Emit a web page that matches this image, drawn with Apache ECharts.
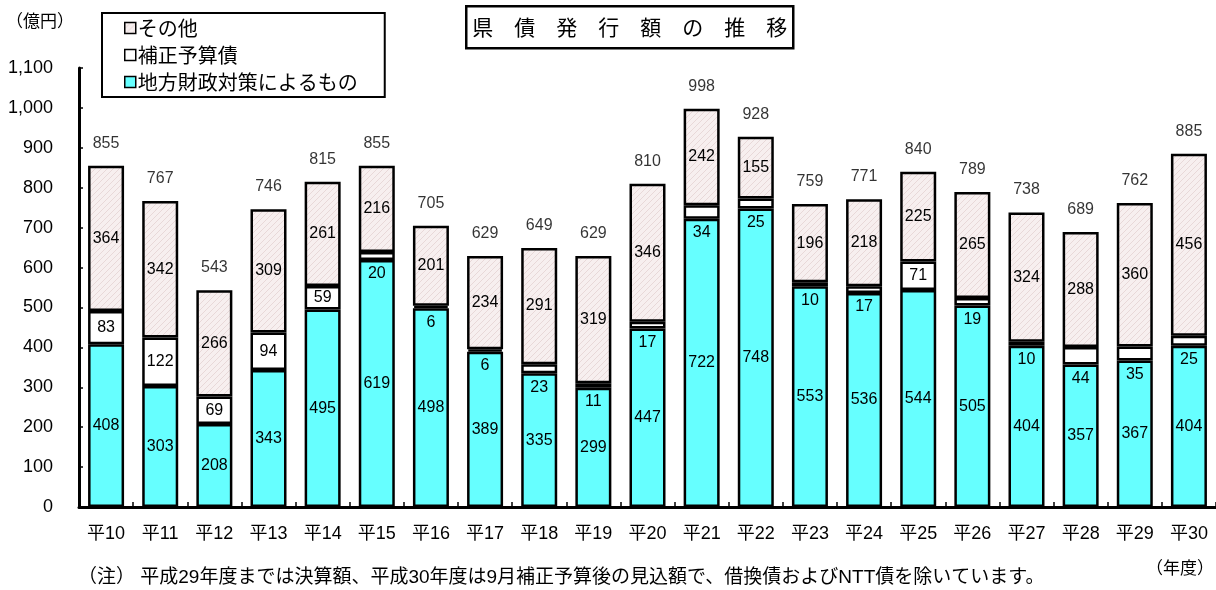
<!DOCTYPE html>
<html>
<head>
<meta charset="utf-8">
<script src="https://cdn.jsdelivr.net/npm/echarts@6/dist/echarts.min.js"></script>
<style>
  html, body { margin: 0; padding: 0; background: #fff; }
  #chart { width: 1216px; height: 590px; }
</style>
</head>
<body>
<div id="chart"></div>
<script>
// 年度
const years = ['平10', '平11', '平12', '平13', '平14', '平15', '平16', '平17', '平18', '平19', '平20',
               '平21', '平22', '平23', '平24', '平25', '平26', '平27', '平28', '平29', '平30'];
// 地方財政対策によるもの（億円）
const localMeasures = [408, 303, 208, 343, 495, 619, 498, 389, 335, 299, 447,
                       722, 748, 553, 536, 544, 505, 404, 357, 367, 404];
// 補正予算債（億円）
const supplementary = [83, 122, 69, 94, 59, 20, 6, 6, 23, 11, 17,
                       34, 25, 10, 17, 71, 19, 10, 44, 35, 25];
// その他（億円）
const others = [364, 342, 266, 309, 261, 216, 201, 234, 291, 319, 346,
                242, 155, 196, 218, 225, 265, 324, 288, 360, 456];
// 縦軸の範囲と目盛
const yMin = 0, yMax = 1100, yStep = 100;

const totals = years.map((_, i) => localMeasures[i] + supplementary[i] + others[i]);

const JP = '"Noto Sans CJK JP"';
const NUM = '"Liberation Sans", "Noto Sans CJK JP"';

// 斜線ハッチのパターン
function hatchPattern() {
  const s = 6;
  const c = document.createElement('canvas');
  c.width = s; c.height = s;
  const g = c.getContext('2d');
  g.fillStyle = '#f7efef';
  g.fillRect(0, 0, s, s);
  g.strokeStyle = '#e8d8d8';
  g.lineWidth = 1;
  g.beginPath();
  g.moveTo(0, s); g.lineTo(s, 0);
  g.moveTo(-1, 1); g.lineTo(1, -1);
  g.moveTo(s - 1, s + 1); g.lineTo(s + 1, s - 1);
  g.stroke();
  return c;
}
const hatch = { image: hatchPattern(), repeat: 'repeat' };

const labelBase = { show: true, color: '#000', fontSize: 16, fontFamily: NUM };
const barBorder = { borderColor: '#000', borderWidth: 2.5 };
const barWidth = 36;

const chart = echarts.init(document.getElementById('chart'), null, { renderer: 'canvas' });

chart.setOption({
  animation: false,
  backgroundColor: '#fff',
  grid: { left: 79, right: 0, top: 68, bottom: 83, containLabel: false },
  legend: {
    data: ['その他', '補正予算債', '地方財政対策によるもの'],
    orient: 'vertical',
    left: 102,
    top: 13,
    padding: [5, 27, 5, 22],
    itemGap: 7,
    itemWidth: 11,
    itemHeight: 11,
    icon: 'rect',
    itemStyle: { borderColor: '#000', borderWidth: 1.5 },
    borderColor: '#000',
    borderWidth: 2,
    selectedMode: false,
    textStyle: { fontFamily: JP, fontSize: 20, color: '#000', padding: [0, 0, 0, -3] }
  },
  xAxis: {
    type: 'category',
    data: years,
    boundaryGap: true,
    axisLine: { lineStyle: { color: '#000', width: 3 } },
    axisTick: { show: true, inside: true, length: 5, lineStyle: { color: '#000', width: 1.5 } },
    axisLabel: { color: '#000', fontSize: 18, fontFamily: NUM, margin: 18 }
  },
  yAxis: {
    type: 'value',
    min: yMin,
    max: yMax,
    interval: yStep,
    axisLine: { show: true, lineStyle: { color: '#000', width: 3 } },
    axisTick: { show: true, inside: true, length: 4, lineStyle: { color: '#000', width: 1.5 } },
    splitLine: { show: false },
    axisLabel: {
      color: '#000', fontSize: 18, fontFamily: NUM, margin: 26,
      formatter: v => v.toLocaleString('en-US')
    }
  },
  series: [
    {
      name: '地方財政対策によるもの',
      type: 'bar',
      stack: 'total',
      barWidth: barWidth,
      data: localMeasures,
      itemStyle: Object.assign({ color: '#66ffff' }, barBorder),
      label: Object.assign({ position: 'inside' }, labelBase)
    },
    {
      name: '補正予算債',
      type: 'bar',
      stack: 'total',
      barWidth: barWidth,
      // 薄い区分は数値を下側（水色の区分内）に表示
      data: supplementary.map(v => v < 50
        ? { value: v, label: { position: 'bottom', distance: 6 } }
        : v),
      itemStyle: Object.assign({ color: '#ffffff' }, barBorder),
      label: Object.assign({ position: 'inside' }, labelBase)
    },
    {
      name: 'その他',
      type: 'bar',
      stack: 'total',
      barWidth: barWidth,
      data: others,
      itemStyle: Object.assign({ color: hatch }, barBorder),
      label: Object.assign({ position: 'inside' }, labelBase)
    },
    {
      name: '合計',
      type: 'scatter',
      data: totals,
      symbolSize: 1,
      itemStyle: { color: 'rgba(0,0,0,0)' },
      label: Object.assign({ position: 'top', distance: 14 }, labelBase),
      z: 5
    }
  ],
  graphic: [
    {
      type: 'text', left: 6, top: 12,
      style: { text: '（億円）', fontSize: 17, fontFamily: JP, fill: '#000' }
    },
    {
      type: 'group', left: 465, top: 5,
      children: [
        {
          type: 'rect',
          shape: { x: 0, y: 0, width: 327, height: 42 },
          style: { fill: '#fff', stroke: '#000', lineWidth: 2.5 }
        },
        {
          type: 'text', x: 163.5, y: 21,
          style: {
            text: '県　債　発　行　額　の　推　移',
            fontSize: 21, fontFamily: JP, fill: '#000',
            align: 'center', verticalAlign: 'middle'
          }
        }
      ]
    },
    {
      type: 'text', left: 78, top: 568,
      style: {
        text: '（注） 平成29年度までは決算額、平成30年度は9月補正予算後の見込額で、借換債およびNTT債を除いています。',
        fontSize: 19, fontFamily: NUM, fill: '#000'
      }
    },
    {
      type: 'text', left: 1146, top: 559,
      style: { text: '（年度）', fontSize: 17, fontFamily: JP, fill: '#000' }
    }
  ]
});
</script>
</body>
</html>
